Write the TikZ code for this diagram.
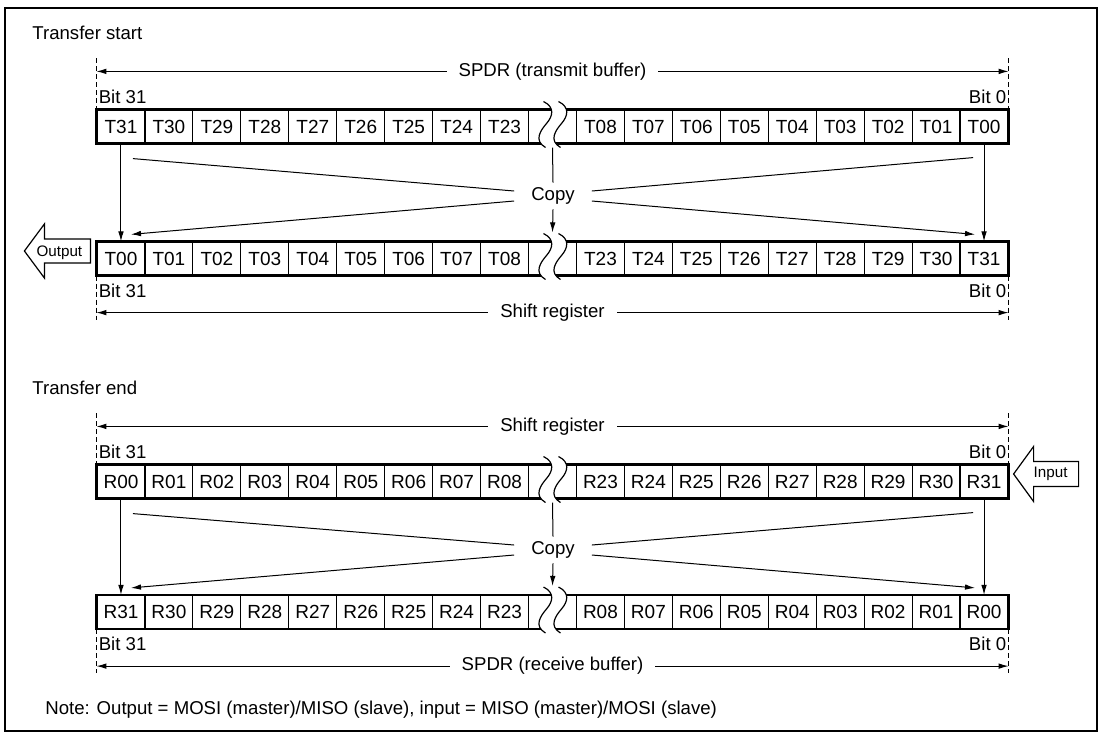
\documentclass[tikz,border=0pt]{standalone}
\usepackage{fontspec}
\setmainfont{Liberation Sans}
\usetikzlibrary{arrows.meta}
\begin{document}
\begin{tikzpicture} [x = 0.5pt, y = -0.5pt,
	cell/.style = {draw, line width = 0.6pt, minimum width = 23.974pt, minimum height = 16.5pt, inner sep = 0pt, font = \fontsize{9.5}{11}\selectfont},
	lbl/.style = {inner sep = 0pt, font = \fontsize{9.3}{11}\selectfont},
	arrtext/.style = {inner sep = 0pt, font = \fontsize{7.6}{9}\selectfont},
	reg/.style = {line width = 1.1pt},
	conn/.style = {line width = 0.5pt},
	arr/.style = {conn, -{Latex[length = 5pt, width = 2.8pt]}},
	dim/.style = {conn, {Latex[length = 5pt, width = 2.8pt]}-{Latex[length = 5pt, width = 2.8pt]}},
	dimdash/.style = {line width = 0.5pt, dash pattern = on 2.5pt off 1.5pt},
	bigarrow/.style = {draw, line width = 0.6pt, fill = white}]
	\useasboundingbox (0,0) rectangle (1101,734);
	\draw [line width = 1pt] (5,8) rectangle (1097,731);
	\node [lbl, anchor = west] (tstart) at (32,33) {Transfer start};
	\node [lbl, anchor = west] (tend) at (32,388) {Transfer end};
	\foreach \lab [count = \i] in {T31,T30,T29,T28,T27,T26,T25,T24,T23,{},T08,T07,T06,T05,T04,T03,T02,T01,T00}
		\node [cell] (a\i) at ({97 + (\i - 0.5)*47.947}, 126.5) {\lab};
	\foreach \lab [count = \i] in {T00,T01,T02,T03,T04,T05,T06,T07,T08,{},T23,T24,T25,T26,T27,T28,T29,T30,T31}
		\node [cell] (b\i) at ({97 + (\i - 0.5)*47.947}, 258.5) {\lab};
	\foreach \lab [count = \i] in {R00,R01,R02,R03,R04,R05,R06,R07,R08,{},R23,R24,R25,R26,R27,R28,R29,R30,R31}
		\node [cell] (c\i) at ({97 + (\i - 0.5)*47.947}, 481.5) {\lab};
	\foreach \lab [count = \i] in {R31,R30,R29,R28,R27,R26,R25,R24,R23,{},R08,R07,R06,R05,R04,R03,R02,R01,R00}
		\node [cell] (d\i) at ({97 + (\i - 0.5)*47.947}, 612) {\lab};
	\foreach \r in {a,b,c,d} {
		\draw [reg] (\r1.north west) rectangle (\r19.south east);
		\begin{scope} [shift = {(\r10.center)}]
			\fill [white] (-9,-25) .. controls (3,-19) and (0,-10) .. (-6,-3) .. controls (-12,4) and (-19,14) .. (-7,21)
				-- (8,21) .. controls (-4,14) and (3,4) .. (9,-3) .. controls (15,-10) and (18,-19) .. (6,-25) -- cycle;
			\draw [line width = 0.6pt] (-9,-25) .. controls (3,-19) and (0,-10) .. (-6,-3) .. controls (-12,4) and (-19,14) .. (-7,21);
			\draw [line width = 0.6pt] (6,-25) .. controls (18,-19) and (15,-10) .. (9,-3) .. controls (3,4) and (-4,14) .. (8,21);
		\end{scope}
	}
	\node [lbl, minimum width = 38.5pt, minimum height = 13pt] (cpa) at (553,196) {Copy};
	\node [lbl, minimum width = 38.5pt, minimum height = 13pt] (cpb) at (553,550) {Copy};
	\foreach \src/\dst/\cpy in {a/b/cpa, c/d/cpb} {
		\draw [arr] (\src1.south) -- (\dst1.north);
		\draw [arr] (\src19.south) -- (\dst19.north);
		\draw [conn] ([xshift = 6pt, yshift = -7.5pt]\src1.south) -- ([yshift = 2.5pt]\cpy.west);
		\draw [arr] ([yshift = -2.5pt]\cpy.west) -- ([xshift = 5pt, yshift = 3.5pt]\dst1.north);
		\draw [conn] ([xshift = -5.5pt, yshift = -7pt]\src19.south) -- ([yshift = 2.5pt]\cpy.east);
		\draw [arr] ([yshift = -2.5pt]\cpy.east) -- ([xshift = -4.5pt, yshift = 3.5pt]\dst19.north);
		\draw [conn] ([yshift = -2pt]\src10.south) -- (\cpy.north);
		\draw [arr] (\cpy.south) -- ([yshift = 4.5pt]\dst10.north);
	}
	\foreach \r/\txt in {a/SPDR (transmit buffer), c/Shift register} {
		\draw [dimdash] ([yshift = 25.5pt]\r1.north west) -- (\r1.north west);
		\draw [dimdash] ([yshift = 25.5pt]\r19.north east) -- (\r19.north east);
		\draw [dim] ([yshift = 19pt]\r1.north west) -- ([yshift = 19pt]\r19.north east) node [lbl, midway, fill = white, inner xsep = 6pt] (dim\r) {\txt};
		\node [lbl, anchor = south west] (bitl\r) at ([xshift = 1pt, yshift = 2.5pt]\r1.north west) {Bit 31};
		\node [lbl, anchor = south east] (bitr\r) at ([xshift = -1pt, yshift = 2.5pt]\r19.north east) {Bit 0};
	}
	\foreach \r/\txt in {b/Shift register, d/SPDR (receive buffer)} {
		\draw [dimdash] (\r1.south west) -- ([yshift = -22pt]\r1.south west);
		\draw [dimdash] (\r19.south east) -- ([yshift = -22pt]\r19.south east);
		\draw [dim] ([yshift = -18.5pt]\r1.south west) -- ([yshift = -18.5pt]\r19.south east) node [lbl, midway, fill = white, inner xsep = 6pt] (dim\r) {\txt};
		\node [lbl, anchor = north west] (bitl\r) at ([xshift = 1pt, yshift = -4pt]\r1.south west) {Bit 31};
		\node [lbl, anchor = north east] (bitr\r) at ([xshift = -1pt, yshift = -4pt]\r19.south east) {Bit 0};
	}
	\draw [bigarrow] (b1.west) ++(-72,-7.5) -- ++(20,-27) -- ++(0,15) -- ++(46,0) -- ++(0,24) -- ++(-46,0) -- ++(0,15) -- cycle;
	\node [arrtext] (outp) at ([xshift = -18.5pt, yshift = 2.75pt]b1.west) {Output};
	\draw [bigarrow] (c19.east) ++(5,-7.5) -- ++(20,-27.5) -- ++(0,15) -- ++(45,0) -- ++(0,25) -- ++(-45,0) -- ++(0,15) -- cycle;
	\node [arrtext] (inp) at ([xshift = 21pt, yshift = 3.75pt]c19.east) {Input};
	\node [lbl, anchor = west] (note) at (45,710) {Note: Output = MOSI (master)/MISO (slave), input = MISO (master)/MOSI (slave)};
\end{tikzpicture}
\end{document}
